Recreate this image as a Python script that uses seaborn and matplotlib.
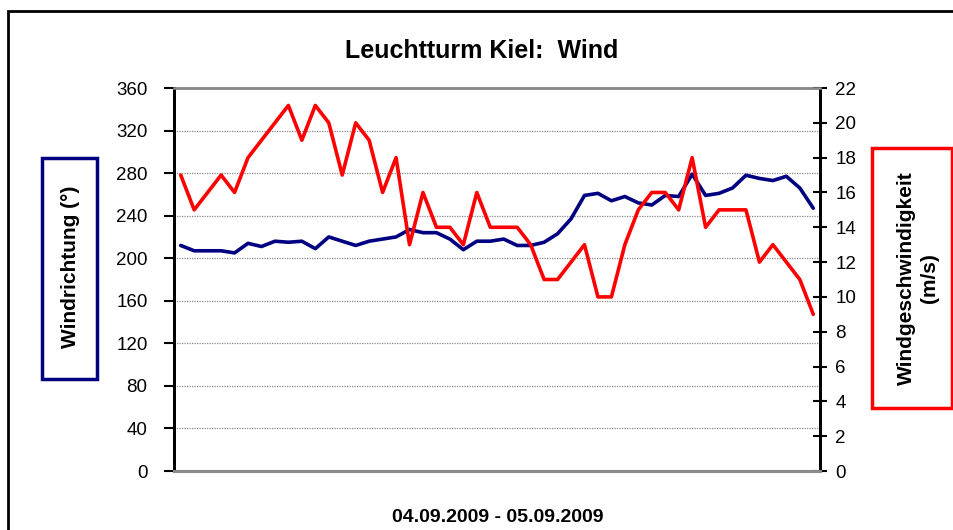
import numpy as np
import pandas as pd
import seaborn as sns
import matplotlib.pyplot as plt
from matplotlib.patches import Rectangle

# Leuchtturm Kiel, 04.09.2009 - 05.09.2009, 48 Messungen
windrichtung = [212, 207, 207, 207, 205, 214, 211, 216, 215, 216,
                209, 220, 216, 212, 216, 218, 220, 227, 224, 224,
                218, 208, 216, 216, 218, 212, 212, 215, 223, 237,
                259, 261, 254, 258, 252, 250, 259, 258, 279, 259,
                261, 266, 278, 275, 273, 277, 266, 247]
windgeschw = [17, 15, 16, 17, 16, 18, 19, 20, 21, 19,
              21, 20, 17, 20, 19, 16, 18, 13, 16, 14,
              14, 13, 16, 14, 14, 14, 13, 11, 11, 12,
              13, 10, 10, 13, 15, 16, 16, 15, 18, 14,
              15, 15, 15, 12, 13, 12, 11, 9]
richtung_ticks = list(range(0, 361, 40))
geschw_ticks = list(range(0, 23, 2))
datum = "04.09.2009 - 05.09.2009"

df = pd.DataFrame({"messung": np.arange(len(windrichtung)),
                   "richtung": windrichtung,
                   "geschw": windgeschw})

sns.set_style("white")
plt.rcParams["font.family"] = ["Liberation Sans", "DejaVu Sans"]
plt.rcParams["text.color"] = "black"
plt.rcParams["xtick.color"] = "black"
plt.rcParams["ytick.color"] = "black"
plt.rcParams["axes.labelcolor"] = "black"

fig = plt.figure(figsize=(9.54, 5.30), dpi=100)
ax = fig.add_axes([174 / 954, 1 - 471 / 530, 646 / 954, 383 / 530])
ax2 = ax.twinx()

# linien
sns.lineplot(data=df, x="messung", y="richtung", ax=ax, color="#000080", lw=2.6)
sns.lineplot(data=df, x="messung", y="geschw", ax=ax2, color="#ff0000", lw=2.6)

ax.set_xlim(-0.5, len(windrichtung) - 0.5)
ax.set_ylim(0, 360)
ax.set_yticks(richtung_ticks)
ax2.set_ylim(0, 22)
ax2.set_yticks(geschw_ticks)
ax.set_xticks([24])
ax.set_xticklabels([])
ax.set_xlabel("")
ax.set_ylabel("")
ax2.set_ylabel("")

ax.yaxis.grid(True, color="#8a8a8a", linestyle=(0, (1, 1)), lw=0.9)
ax.xaxis.grid(False)
ax2.grid(False)

ax.tick_params(axis="y", direction="out", length=7, width=1.5,
               labelsize=13.5, pad=12)
ax.tick_params(axis="x", direction="inout", length=15, width=1.3)
ax2.tick_params(axis="y", direction="inout", length=10, width=1.5,
                labelsize=13.5, pad=6)

for a in (ax, ax2):
    a.spines["left"].set_color("black")
    a.spines["left"].set_linewidth(2)
    a.spines["right"].set_color("black")
    a.spines["right"].set_linewidth(2)
    a.spines["top"].set_color("#8a8a8a")
    a.spines["top"].set_linewidth(1.8)
    a.spines["bottom"].set_color("#8a8a8a")
    a.spines["bottom"].set_linewidth(2.2)

# titel und beschriftungen
fig.text(482 / 954, 1 - 51 / 530, "Leuchtturm Kiel:  Wind", ha="center", va="center",
         fontsize=18, fontweight="bold")
fig.text(498 / 954, 1 - 517 / 530, datum, ha="center", va="center",
         fontsize=14, fontweight="bold")

# kaesten um die achsentitel
fig.patches.append(Rectangle((42 / 954, 1 - 379 / 530), 55 / 954, 221 / 530,
                             transform=fig.transFigure, fc="white",
                             ec="#000080", lw=2.5))
fig.patches.append(Rectangle((872 / 954, 1 - 408 / 530), 80 / 954, 260 / 530,
                             transform=fig.transFigure, fc="white",
                             ec="#ff0000", lw=2.5))
fig.text(70 / 954, 1 - 267 / 530, "Windrichtung (°)", rotation=90, ha="center",
         va="center", fontsize=15, fontweight="bold")
fig.text(918 / 954, 1 - 278 / 530, "Windgeschwindigkeit\n(m/s)", rotation=90,
         ha="center", va="center", multialignment="center", fontsize=15,
         fontweight="bold", linespacing=1.25)

# rahmen
fig.patches.append(Rectangle((8 / 954, -0.1), 1.2, 1.1 - 11 / 530,
                             transform=fig.transFigure, fill=False,
                             ec="black", lw=2))

fig.savefig("out.png", dpi=100)
